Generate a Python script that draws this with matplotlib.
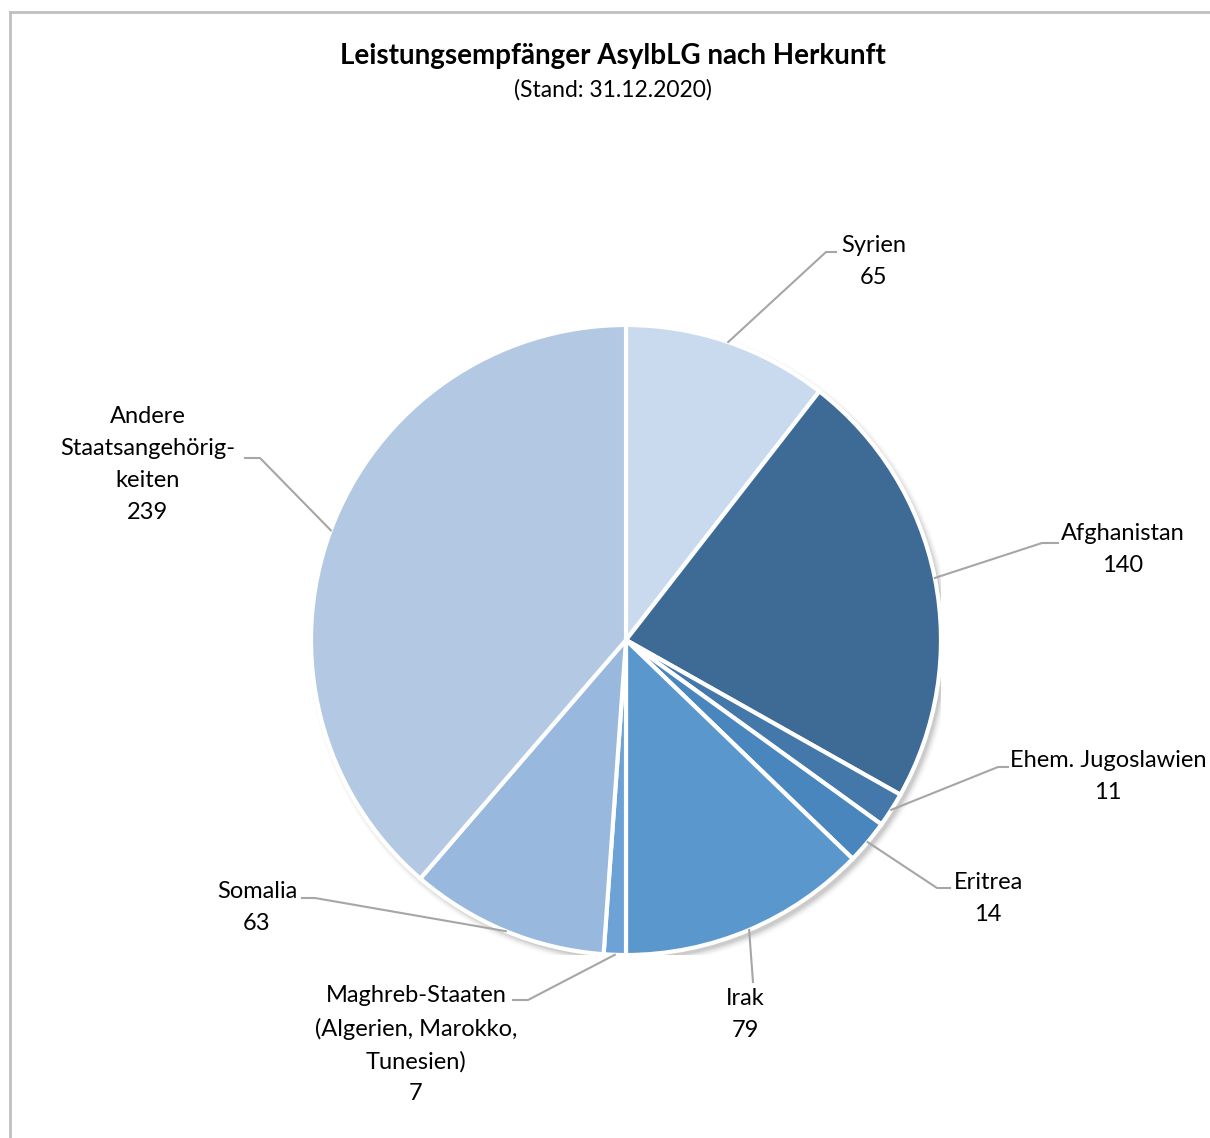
import numpy as np
import matplotlib
matplotlib.use("Agg")
import matplotlib.pyplot as plt
from matplotlib.patches import Circle

# ---- data ----
labels = ["Syrien", "Afghanistan", "Ehem. Jugoslawien", "Eritrea", "Irak",
          "Maghreb-Staaten\n(Algerien, Marokko,\nTunesien)", "Somalia",
          "Andere\nStaatsangehörig-\nkeiten"]
values = [65, 140, 11, 14, 79, 7, 63, 239]
colors = ["#C9D9EE", "#3E6B96", "#4478AA", "#4A86BE", "#5A97CC", "#6CA2D6",
          "#98B8DE", "#B2C8E3"]

title = "Leistungsempfänger AsylbLG nach Herkunft"
subtitle = "(Stand: 31.12.2020)"

# ---- layout (pixel positions) ----
W, H = 1210, 1138
CX, CY, R = 626, 640, 315
# text centre (first-line y) and elbow/end of leader line
label_pos = [(874, 245), (1123, 533), (1108, 760), (988, 882), (745, 998),
             (416, 995), (257, 891), (148, 416)]
elbows = [[(826, 252), (836, 252)], [(1042, 543), (1058, 543)],
          [(998, 767), (1008, 767)], [(937, 888), (950, 888)],
          [(753, 982)], [(528, 1000), (513, 1000)],
          [(315, 898), (302, 898)], [(260, 458), (245, 458)]]

FONT = "Lato"
plt.rcParams['font.family'] = [FONT, 'DejaVu Sans']

fig = plt.figure(figsize=(W / 100, H / 100), dpi=100)

def fx(px):
    return px / W

def fy(py):
    return 1 - py / H

ax = fig.add_axes([fx(CX - R), fy(CY + R), 2 * R / W, 2 * R / H])
ax.set_xlim(-1, 1)
ax.set_ylim(-1, 1)
ax.set_aspect("equal")
ax.axis("off")

# soft shadow
for i, a in enumerate(np.linspace(0.06, 0.01, 6)):
    ax.add_patch(Circle((0.012, -0.014), 1.0 + 0.004 * i, color="black",
                        alpha=a, lw=0, zorder=0))

wedges, _ = ax.pie(values, colors=colors, startangle=90, counterclock=False,
                   radius=1.0, wedgeprops=dict(edgecolor="white", linewidth=3),
                   frame=False)
for w in wedges:
    w.set_zorder(2)
ax.set_xlim(-1, 1)
ax.set_ylim(-1, 1)

# border (left & top visible)
fig.add_artist(plt.Line2D([fx(9.5), fx(9.5)], [fy(12), 0], color="#C0C0C0",
                          lw=2, transform=fig.transFigure))
fig.add_artist(plt.Line2D([fx(9.5), 1], [fy(12), fy(12)], color="#C0C0C0",
                          lw=2, transform=fig.transFigure))

# titles
fig.text(fx(613), fy(56), title, ha="center", va="center", fontsize=20,
         fontweight="bold", color="black")
fig.text(fx(613), fy(90), subtitle, ha="center", va="center", fontsize=16.5,
         color="black")

# labels and leader lines
for w, lab, val, (lx, ly), el in zip(wedges, labels, values, label_pos, elbows):
    mid = np.deg2rad((w.theta1 + w.theta2) / 2)
    sx = CX + R * np.cos(mid)
    sy = CY - R * np.sin(mid)
    pts = [(sx, sy)] + el
    xs = [fx(p[0]) for p in pts]
    ys = [fy(p[1]) for p in pts]
    fig.add_artist(plt.Line2D(xs, ys, color="#A6A6A6", lw=1.5,
                              transform=fig.transFigure, zorder=1))
    txt = lab + "\n" + str(val)
    fig.text(fx(lx), fy(ly - 10), txt, ha="center", va="top", fontsize=17,
             linespacing=1.64, color="black")

fig.savefig("out.png", dpi=100, facecolor="white")
